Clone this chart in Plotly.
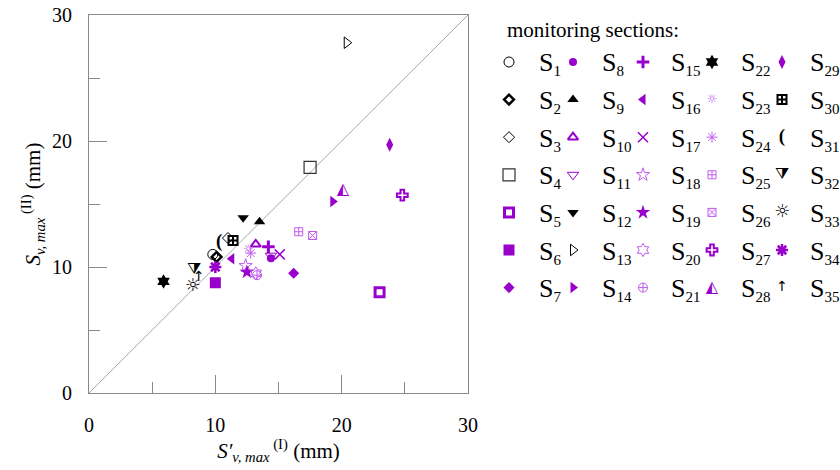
import plotly.graph_objects as go

# ---------------- data ----------------
section_ids = list(range(1, 36))
x_I = [9.8, 10.1, 11.0, 17.5, 23.0, 10.0, 16.2, 14.4, 13.5, 13.2,
       14.4, 12.2, 20.4, 19.3, 14.2, 11.3, 15.1, 12.4, 12.5, 13.2,
       13.3, 5.9, 12.6, 12.8, 16.6, 17.7, 24.8, 20.1, 23.8, 11.4,
       10.3, 8.3, 8.2, 10.0, 8.7]
y_II = [11.0, 10.8, 12.3, 17.9, 8.0, 8.75, 9.5, 10.7, 13.6, 11.8,
        10.9, 13.9, 27.8, 15.2, 11.6, 10.65, 11.0, 10.1, 9.6, 9.5,
        9.35, 8.85, 11.35, 11.1, 12.8, 12.5, 15.7, 16.1, 19.7, 12.1,
        12.0, 9.75, 8.45, 10.0, 9.2]
axis_ticks = [0, 10, 20, 30]

# ---------------- styles ----------------
PURPLE = "#9900CC"
LIGHT = "#BF5AEE"
BLACK = "#000000"

# kind, symbol/glyph, colour, size, line width
styles = {
    1: ("m", "circle-open", BLACK, 10, 1),
    2: ("m", "diamond-open", BLACK, 7.5, 2.5),
    3: ("m", "diamond-open", BLACK, 8.5, 1),
    4: ("m", "square-open", "#333333", 12, 1.2),
    5: ("m", "square-open", PURPLE, 9, 3),
    6: ("m", "square", PURPLE, 11, 0),
    7: ("m", "diamond", PURPLE, 8.5, 0),
    8: ("m", "circle", PURPLE, 8, 0),
    9: ("m", "triangle-up", BLACK, 10, 0),
    10: ("m", "triangle-up-open", PURPLE, 9, 2),
    11: ("m", "triangle-down-open", PURPLE, 10, 1),
    12: ("m", "triangle-down", BLACK, 10, 0),
    13: ("m", "triangle-right-open", BLACK, 10, 1),
    14: ("m", "triangle-right", PURPLE, 10, 0),
    15: ("m", "cross-thin-open", PURPLE, 9, 3),
    16: ("m", "triangle-left", PURPLE, 10, 0),
    17: ("m", "x-thin-open", PURPLE, 10, 1.5),
    18: ("m", "star-open", LIGHT, 10, 1),
    19: ("m", "star", PURPLE, 11, 0),
    20: ("m", "hexagram-open", LIGHT, 10, 1),
    21: ("m", "circle-cross-open", LIGHT, 9, 1),
    22: ("m", "hexagram", BLACK, 11, 0),
    23: ("t", "☼", LIGHT, 12, 0),
    24: ("m", "asterisk-open", LIGHT, 9, 1),
    25: ("m", "square-cross-open", LIGHT, 8, 1),
    26: ("m", "square-x-open", LIGHT, 8, 1),
    27: ("m", "cross-open", PURPLE, 9, 2),
    28: ("t", "◭", PURPLE, 16, 0),
    29: ("m", "diamond-tall", PURPLE, 10, 0),
    30: ("m", "square-cross-open", BLACK, 9, 2),
    31: ("t", "<b>(</b>", BLACK, 19, 0),
    32: ("t", "⧩", BLACK, 16, 0),
    33: ("t", "☼", BLACK, 18, 0),
    34: ("m", "asterisk-open", PURPLE, 10, 2.5),
    35: ("t", "↑", BLACK, 14, 0),
}

W, H = 840, 470
PL, PR, PT, PB = 89, 468, 15, 393   # plot frame in pixels
GREY = "#8a8a8a"
FONT = "Liberation Serif"

fig = go.Figure()

# diagonal 1:1 line
fig.add_trace(go.Scatter(x=[axis_ticks[0], axis_ticks[-1]], y=[axis_ticks[0], axis_ticks[-1]],
                         mode="lines", line=dict(color="#a8a8a8", width=1),
                         hoverinfo="skip", xaxis="x", yaxis="y"))


def add_mark(sid, xs, ys, xa, ya):
    kind, sym, col, size, lw = styles[sid]
    if kind == "m":
        fig.add_trace(go.Scatter(
            x=xs, y=ys, mode="markers", xaxis=xa, yaxis=ya, name=f"S{sid}",
            marker=dict(symbol=sym, size=size, color=col,
                        line=dict(color=col, width=lw if lw else 0)),
            cliponaxis=False))
    else:
        fam = FONT if sym.startswith("<b>") else "DejaVu Sans"
        fig.add_trace(go.Scatter(
            x=xs, y=ys, mode="text", text=[sym] * len(xs), xaxis=xa, yaxis=ya,
            name=f"S{sid}", textposition="middle center",
            textfont=dict(family=fam, size=size, color=col),
            cliponaxis=False))


for i, sid in enumerate(section_ids):
    add_mark(sid, [x_I[i]], [y_II[i]], "x", "y")

# ---------------- hand-built legend (5 columns x 7 rows) ----------------
col_marker_x = [509, 573, 643, 712, 782]
col_label_x = [537, 600, 669, 739, 808]
row_y0, row_dy = 62, 37.6
for i, sid in enumerate(section_ids):
    c, r = i // 7, i % 7
    mx = col_marker_x[c]
    my = row_y0 + r * row_dy
    add_mark(sid, [mx], [my], "x2", "y2")
    fig.add_annotation(
        x=col_label_x[c] / W, y=1 - my / H, xref="paper", yref="paper",
        xanchor="left", yanchor="middle", yshift=-2, showarrow=False,
        text=f"S<sub><span style='font-size:15px'>{sid}</span></sub>",
        font=dict(family=FONT, size=26, color="black"))

fig.add_annotation(x=505 / W, y=1 - 30 / H, xref="paper", yref="paper",
                   xanchor="left", yanchor="middle", showarrow=False,
                   text="monitoring sections:",
                   font=dict(family=FONT, size=21, color="black"))

axis_common = dict(
    range=[axis_ticks[0], axis_ticks[-1]], tickmode="array", tickvals=axis_ticks,
    ticks="inside", ticklen=18, tickwidth=1, tickcolor=GREY,
    minor=dict(ticks="inside", ticklen=11, dtick=5, tickwidth=1, tickcolor=GREY, showgrid=False),
    showline=True, linecolor=GREY, linewidth=1, mirror=True,
    showgrid=False, zeroline=False, automargin=False,
    tickfont=dict(family=FONT, size=20, color="black"),
)

fig.update_layout(
    width=W, height=H, margin=dict(l=0, r=0, t=0, b=0, autoexpand=False),
    paper_bgcolor="white", plot_bgcolor="rgba(0,0,0,0)",
    showlegend=False,
    font=dict(family=FONT, size=20, color="black"),
    xaxis=dict(domain=[PL / W, PR / W], anchor="y", ticklabelstandoff=14,
               title=dict(text="<i>S′</i><sub><i>v, max</i></sub><sup> (I)</sup> (mm)",
                          font=dict(family=FONT, size=21), standoff=6),
               **axis_common),
    yaxis=dict(domain=[1 - PB / H, 1 - PT / H], anchor="x", ticklabelstandoff=12,
               title=dict(text="<i>S</i><sub><i>v, max</i></sub><sup> (II)</sup> (mm)",
                          font=dict(family=FONT, size=21), standoff=5),
               **axis_common),
    xaxis2=dict(domain=[0, 1], range=[0, W], anchor="y2", visible=False, fixedrange=True),
    yaxis2=dict(domain=[0, 1], range=[H, 0], anchor="x2", visible=False, fixedrange=True),
)

fig.write_html("out.html")
